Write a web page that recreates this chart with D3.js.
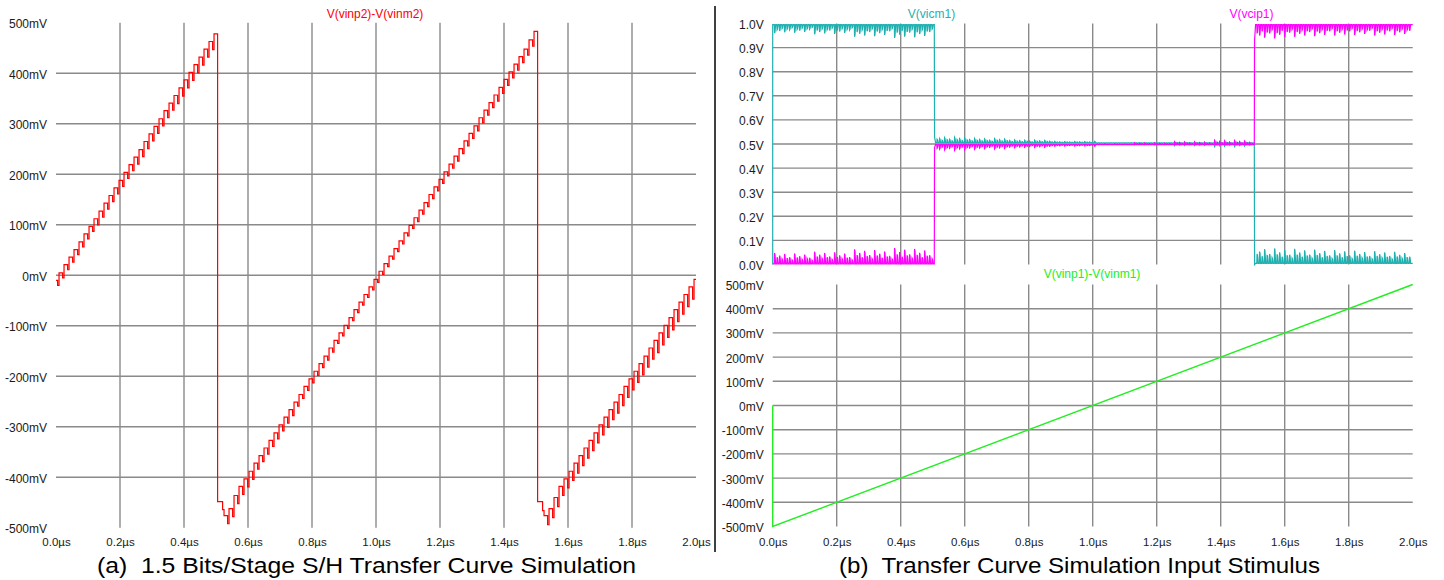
<!DOCTYPE html>
<html>
<head>
<meta charset="utf-8">
<script src="https://cdn.jsdelivr.net/npm/d3@7"></script>
<style>
  html, body { margin: 0; padding: 0; background: #fff; }
  svg { display: block; }
</style>
</head>
<body>
<svg id="chart" width="1444" height="580"></svg>
<script>
// ---------- axis ticks ----------
const timeTicks = [0.0, 0.2, 0.4, 0.6, 0.8, 1.0, 1.2, 1.4, 1.6, 1.8, 2.0];
const timeTickLabels = ["0.0µs", "0.2µs", "0.4µs", "0.6µs", "0.8µs", "1.0µs", "1.2µs", "1.4µs", "1.6µs", "1.8µs", "2.0µs"];
const mvTicks = [500, 400, 300, 200, 100, 0, -100, -200, -300, -400, -500];
const mvTickLabels = ["500mV", "400mV", "300mV", "200mV", "100mV", "0mV", "-100mV", "-200mV", "-300mV", "-400mV", "-500mV"];
const voltTicks = [1.0, 0.9, 0.8, 0.7, 0.6, 0.5, 0.4, 0.3, 0.2, 0.1, 0.0];
const voltTickLabels = ["1.0V", "0.9V", "0.8V", "0.7V", "0.6V", "0.5V", "0.4V", "0.3V", "0.2V", "0.1V", "0.0V"];

// ---------- clock ----------
const clockPeriodUs = 0.015625;   // 64 MHz sampling clock
const clockOffsetUs = 0.005;      // first clock edge

// ---------- (a) residue output V(vinp2)-V(vinm2), held level per clock interval, mV ----------
const vinp2Levels = [
  -10, 5, 21, 36, 51, 66, 82, 97, 112, 127, 143, 158, 173, 188, 204, 219,
  234, 249, 265, 280, 295, 310, 326, 341, 356, 371, 387, 402, 417, 432, 448, 463, 478,
  -448, -476, -462, -436, -418, -403, -388, -372, -357, -342, -327, -312, -296, -281, -266,
  -251, -236, -220, -205, -190, -175, -160, -144, -129, -114, -99, -84, -68, -53, -38, -23,
  -8, 8, 23, 38, 53, 68, 84, 99, 114, 129, 144, 160, 175, 190, 205, 220,
  236, 251, 266, 281, 296, 312, 327, 342, 357, 372, 388, 403, 418, 433, 448, 466, 483,
  -448, -476, -462, -440, -418, -403, -388, -372, -357, -342, -327, -312, -296, -281, -266, -251,
  -236, -220, -205, -190, -175, -160, -144, -129, -114, -99, -84, -68, -53, -38, -23, -8
];
// switching glitch depth (mV) for each 0.125 µs of the run
const vinp2GlitchMv = [10, 12, 14, 16, 16, 12, 8, 6, 6, 8, 10, 12, 18, 20, 22, 24];

// ---------- (b) comparator inputs, V ----------
const regionEdgesUs = [0, 0.505, 1.505, 2.0];
const vicm1Start = 0.0;
const vicm1Base = [0.995, 0.505, 0.005];
const vicm1Settle = [0.53, 0.0];
const vicm1Ripple = [
  [-0.035, -0.04, -0.05, -0.055],
  [0.024, 0.018, 0.012, 0.006, -0.003, -0.008, -0.012, -0.016],
  [0.065, 0.06, 0.055, 0.05]
];
const vcip1Start = 0.003;
const vcip1Base = [0.003, 0.497, 0.995];
const vcip1Settle = [0.485, 0.93];
const vcip1Ripple = [
  [0.045, 0.05, 0.06, 0.065],
  [-0.024, -0.018, -0.012, -0.006, 0.003, 0.008, 0.013, 0.018],
  [-0.06, -0.05, -0.045, -0.045]
];
const ripplePattern = [1, 0.75, 0.9, 0.6, 0.95, 0.7, 0.85, 0.55];

// ---------- (b) differential input ramp V(vinp1)-V(vinm1), mV ----------
const vinp1Times = [0, 0, 2.0];
const vinp1Values = [0, -500, 500];

// ---------- drawing ----------
const FONT = "'Liberation Sans', Arial, Helvetica, sans-serif";
const GRID = "#8a8a8a";
const RED = "#ff0000", TEAL = "#1fb0b0", MAGENTA = "#ff00ff", GREEN = "#22ee22";

const svg = d3.select("#chart").attr("font-family", FONT);

const xLeft = d3.scaleLinear().domain([0, 2]).range([56, 696]);
const yLeft = d3.scaleLinear().domain([-500, 500]).range([527.8, 22.8]);
const xRight = d3.scaleLinear().domain([0, 2]).range([772.7, 1412.7]);
const yTop = d3.scaleLinear().domain([0, 1]).range([264.5, 23.5]);
const yBot = d3.scaleLinear().domain([-500, 500]).range([526.5, 284.5]);

const innerTimes = timeTicks.slice(1, -1);
const innerMv = mvTicks.slice(1, -1);
const innerVolt = voltTicks.slice(1, -1);

function drawGrid(x, y, yVals) {
  const g = svg.append("g").attr("stroke", GRID).attr("stroke-width", 1.4);
  g.selectAll("line.vg").data(innerTimes).join("line").attr("class", "vg")
    .attr("x1", d => x(d)).attr("x2", d => x(d))
    .attr("y1", y.range()[0]).attr("y2", y.range()[1]);
  g.selectAll("line.hg").data(yVals).join("line").attr("class", "hg")
    .attr("x1", x.range()[0]).attr("x2", x.range()[1])
    .attr("y1", d => y(d)).attr("y2", d => y(d));
}

function drawYAxis(scale, values, labels, xPos) {
  const g = svg.append("g").attr("transform", `translate(${xPos},0)`)
    .call(d3.axisLeft(scale).tickValues(values)
      .tickFormat(d => labels[values.indexOf(d)]).tickSize(0).tickPadding(9));
  g.select(".domain").remove();
  g.attr("font-size", 12).attr("font-family", FONT).attr("color", "#1a1a1a");
  g.selectAll("text").attr("dy", "0.42em");
}

function drawXAxis(scale) {
  const g = svg.append("g").attr("transform", "translate(0,545.5)")
    .call(d3.axisBottom(scale).tickValues(timeTicks)
      .tickFormat(d => timeTickLabels[timeTicks.indexOf(d)]).tickSize(0));
  g.select(".domain").remove();
  g.attr("font-size", 11.5).attr("font-family", FONT).attr("color", "#1a1a1a");
  g.selectAll("text").attr("y", 0).attr("dy", 0);
}

// sample-and-hold staircase with a switching glitch at each clock edge
function heldPoints(levels, glitch) {
  const glitchWidthUs = 0.0045;
  const pts = [[0, levels[0]]];
  for (let k = 1; k < levels.length; k++) {
    const t = clockOffsetUs + (k - 1) * clockPeriodUs;
    const prev = levels[k - 1], next = levels[k];
    if (Math.abs(next - prev) > 200) { pts.push([t, prev], [t, next]); continue; }
    const d = glitch[Math.min(glitch.length - 1, Math.floor(t / 0.125))];
    pts.push([t, prev], [t, prev - d], [t + glitchWidthUs, prev - d], [t + glitchWidthUs, next]);
  }
  pts.push([2.0, levels[levels.length - 1]]);
  return pts;
}

// flat levels with clock feed-through spikes
function ripplePoints(start, bases, settle, ripple) {
  const pts = [[0, start]];
  const half = clockPeriodUs / 2;
  for (let r = 0; r < bases.length; r++) {
    const t0 = regionEdgesUs[r], t1 = regionEdgesUs[r + 1], b = bases[r], amps = ripple[r];
    if (r === 0) pts.push([t0, b]);
    else pts.push([t0, bases[r - 1]], [t0 + 0.0008, settle[r - 1]], [t0 + 0.004, b]);
    for (let j = 0; j < 2 / half + 2; j++) {
      const te = clockOffsetUs + j * half;
      if (te <= t0 + 0.004 || te >= t1 - 0.004) continue;
      const q = Math.min(amps.length - 1, Math.floor((te - t0) / (t1 - t0) * amps.length));
      const a = amps[q] * ripplePattern[(j >> 1) % ripplePattern.length] * (j % 2 === 0 ? 1 : 0.6);
      pts.push([te, b], [te + 0.0009, b + a], [te + 0.0022, b + a * 0.85], [te + 0.0042, b]);
    }
    pts.push([t1, b]);
  }
  return pts;
}

function drawTrace(points, x, y, color, width) {
  const line = d3.line().x(d => x(d[0])).y(d => y(d[1]));
  svg.append("path").datum(points)
    .attr("d", line).attr("fill", "none")
    .attr("stroke", color).attr("stroke-width", width)
    .attr("stroke-linejoin", "miter");
}

function traceLabel(text, x, y, color) {
  svg.append("text").attr("x", x).attr("y", y).attr("text-anchor", "middle")
    .attr("font-size", 12).attr("fill", color).text(text);
}

// ----- panel (a) -----
drawGrid(xLeft, yLeft, innerMv);
drawYAxis(yLeft, mvTicks, mvTickLabels, 56);
drawXAxis(xLeft);
drawTrace(heldPoints(vinp2Levels, vinp2GlitchMv), xLeft, yLeft, RED, 1.2);
traceLabel("V(vinp2)-V(vinm2)", 375, 17.5, RED);

// ----- panel (b), top -----
drawGrid(xRight, yTop, innerVolt);
drawYAxis(yTop, voltTicks, voltTickLabels, 772.7);
drawTrace(ripplePoints(vicm1Start, vicm1Base, vicm1Settle, vicm1Ripple), xRight, yTop, TEAL, 1.2);
drawTrace(ripplePoints(vcip1Start, vcip1Base, vcip1Settle, vcip1Ripple), xRight, yTop, MAGENTA, 1.2);
traceLabel("V(vicm1)", 931.5, 17.5, TEAL);
traceLabel("V(vcip1)", 1251.5, 17.5, MAGENTA);

// ----- panel (b), bottom -----
drawGrid(xRight, yBot, innerMv);
drawYAxis(yBot, mvTicks, mvTickLabels, 772.7);
drawXAxis(xRight);
drawTrace(vinp1Times.map((t, i) => [t, vinp1Values[i]]), xRight, yBot, GREEN, 1.4);
traceLabel("V(vinp1)-V(vinm1)", 1092, 278.3, GREEN);

// divider between the two figures
svg.append("line").attr("x1", 715).attr("x2", 715).attr("y1", 6).attr("y2", 552)
  .attr("stroke", "#000").attr("stroke-width", 1.5);

// captions
svg.append("text").attr("x", 97).attr("y", 573).attr("font-size", 22)
  .attr("textLength", 539).attr("lengthAdjust", "spacingAndGlyphs").attr("fill", "#000")
  .attr("xml:space", "preserve").style("white-space", "pre")
  .text("(a)  1.5 Bits/Stage S/H Transfer Curve Simulation");
svg.append("text").attr("x", 839).attr("y", 573).attr("font-size", 22)
  .attr("textLength", 481).attr("lengthAdjust", "spacingAndGlyphs").attr("fill", "#000")
  .attr("xml:space", "preserve").style("white-space", "pre")
  .text("(b)  Transfer Curve Simulation Input Stimulus");
</script>
</body>
</html>
